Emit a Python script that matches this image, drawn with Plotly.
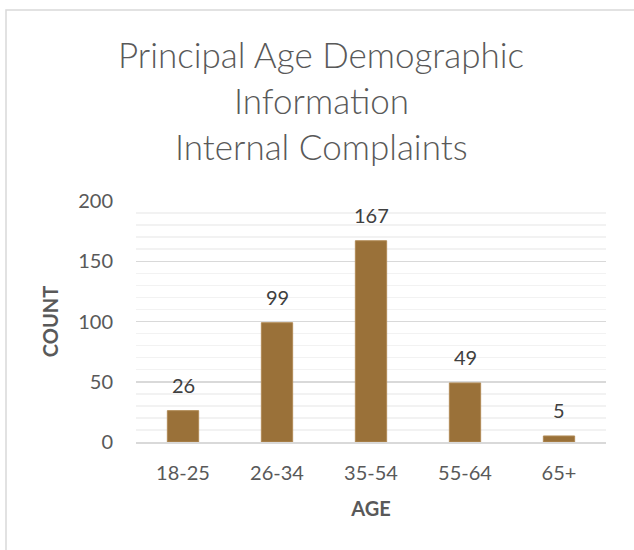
import plotly.graph_objects as go

categories = ["18-25", "26-34", "35-54", "55-64", "65+"]
counts = [26, 99, 167, 49, 5]
title_lines = ["Principal Age Demographic", "Information", "Internal Complaints"]
y_ticks = [0, 50, 100, 150, 200]

W, H = 634, 550
L, R, T, B = 136, 28, 201, 108
pw, ph = W - L - R, H - T - B

def px_x(px):
    return (px - L) / pw

def px_y(py):
    return (H - B - py) / ph

FONT = "Lato, 'Open Sans', sans-serif"
GREY = "#595959"

fig = go.Figure()
fig.add_trace(go.Bar(
    x=categories, y=counts,
    marker=dict(color="#9A7139", line=dict(color="#B08A55", width=1)),
    width=0.333, hoverinfo="skip",
))

annotations = []
for c, v in zip(categories, counts):
    annotations.append(dict(x=c, y=v, xref="x", yref="y", text=str(v), showarrow=False,
                            yanchor="middle", yshift=26,
                            font=dict(family=FONT, size=20, color="#404040")))
for line, py in zip(title_lines, [54, 100, 146]):
    annotations.append(dict(x=px_x(321), y=px_y(py), xref="paper", yref="paper", text=line,
                            showarrow=False, xanchor="center", yanchor="middle",
                            font=dict(family=FONT, size=35, color=GREY, weight=300)))

fig.update_layout(
    width=W, height=H,
    margin=dict(l=L, r=R, t=T, b=B),
    paper_bgcolor="white", plot_bgcolor="white",
    showlegend=False,
    hovermode=False,
    annotations=annotations,
    shapes=[dict(type="rect", xref="paper", yref="paper",
                 x0=px_x(6), x1=px_x(700), y0=px_y(620), y1=px_y(10),
                 line=dict(color="#D9D9D9", width=1.5), fillcolor="rgba(0,0,0,0)", layer="below")],
    xaxis=dict(
        type="category", showgrid=False, showline=True, linecolor="#D9D9D9", linewidth=1.5,
        ticks="", tickfont=dict(family=FONT, size=20, color=GREY), ticklabelstandoff=12,
        title=dict(text="<b>AGE</b>", font=dict(family=FONT, size=20, color=GREY), standoff=19),
    ),
    yaxis=dict(
        range=[0, 200], tickvals=y_ticks, showline=False, zeroline=False,
        gridcolor="#D9D9D9", gridwidth=1.5, ticks="",
        tickfont=dict(family=FONT, size=20, color=GREY), ticklabelstandoff=22,
        minor=dict(dtick=10, showgrid=True, gridcolor="#F2F2F2", gridwidth=1.5),
        title=dict(text="<b>COUNT</b>", font=dict(family=FONT, size=20, color=GREY), standoff=14),
    ),
)

fig.write_html("out.html",
               config={"displayModeBar": False, "staticPlot": True},
               post_script="document.body.style.margin='0';document.body.style.overflow='hidden';")
